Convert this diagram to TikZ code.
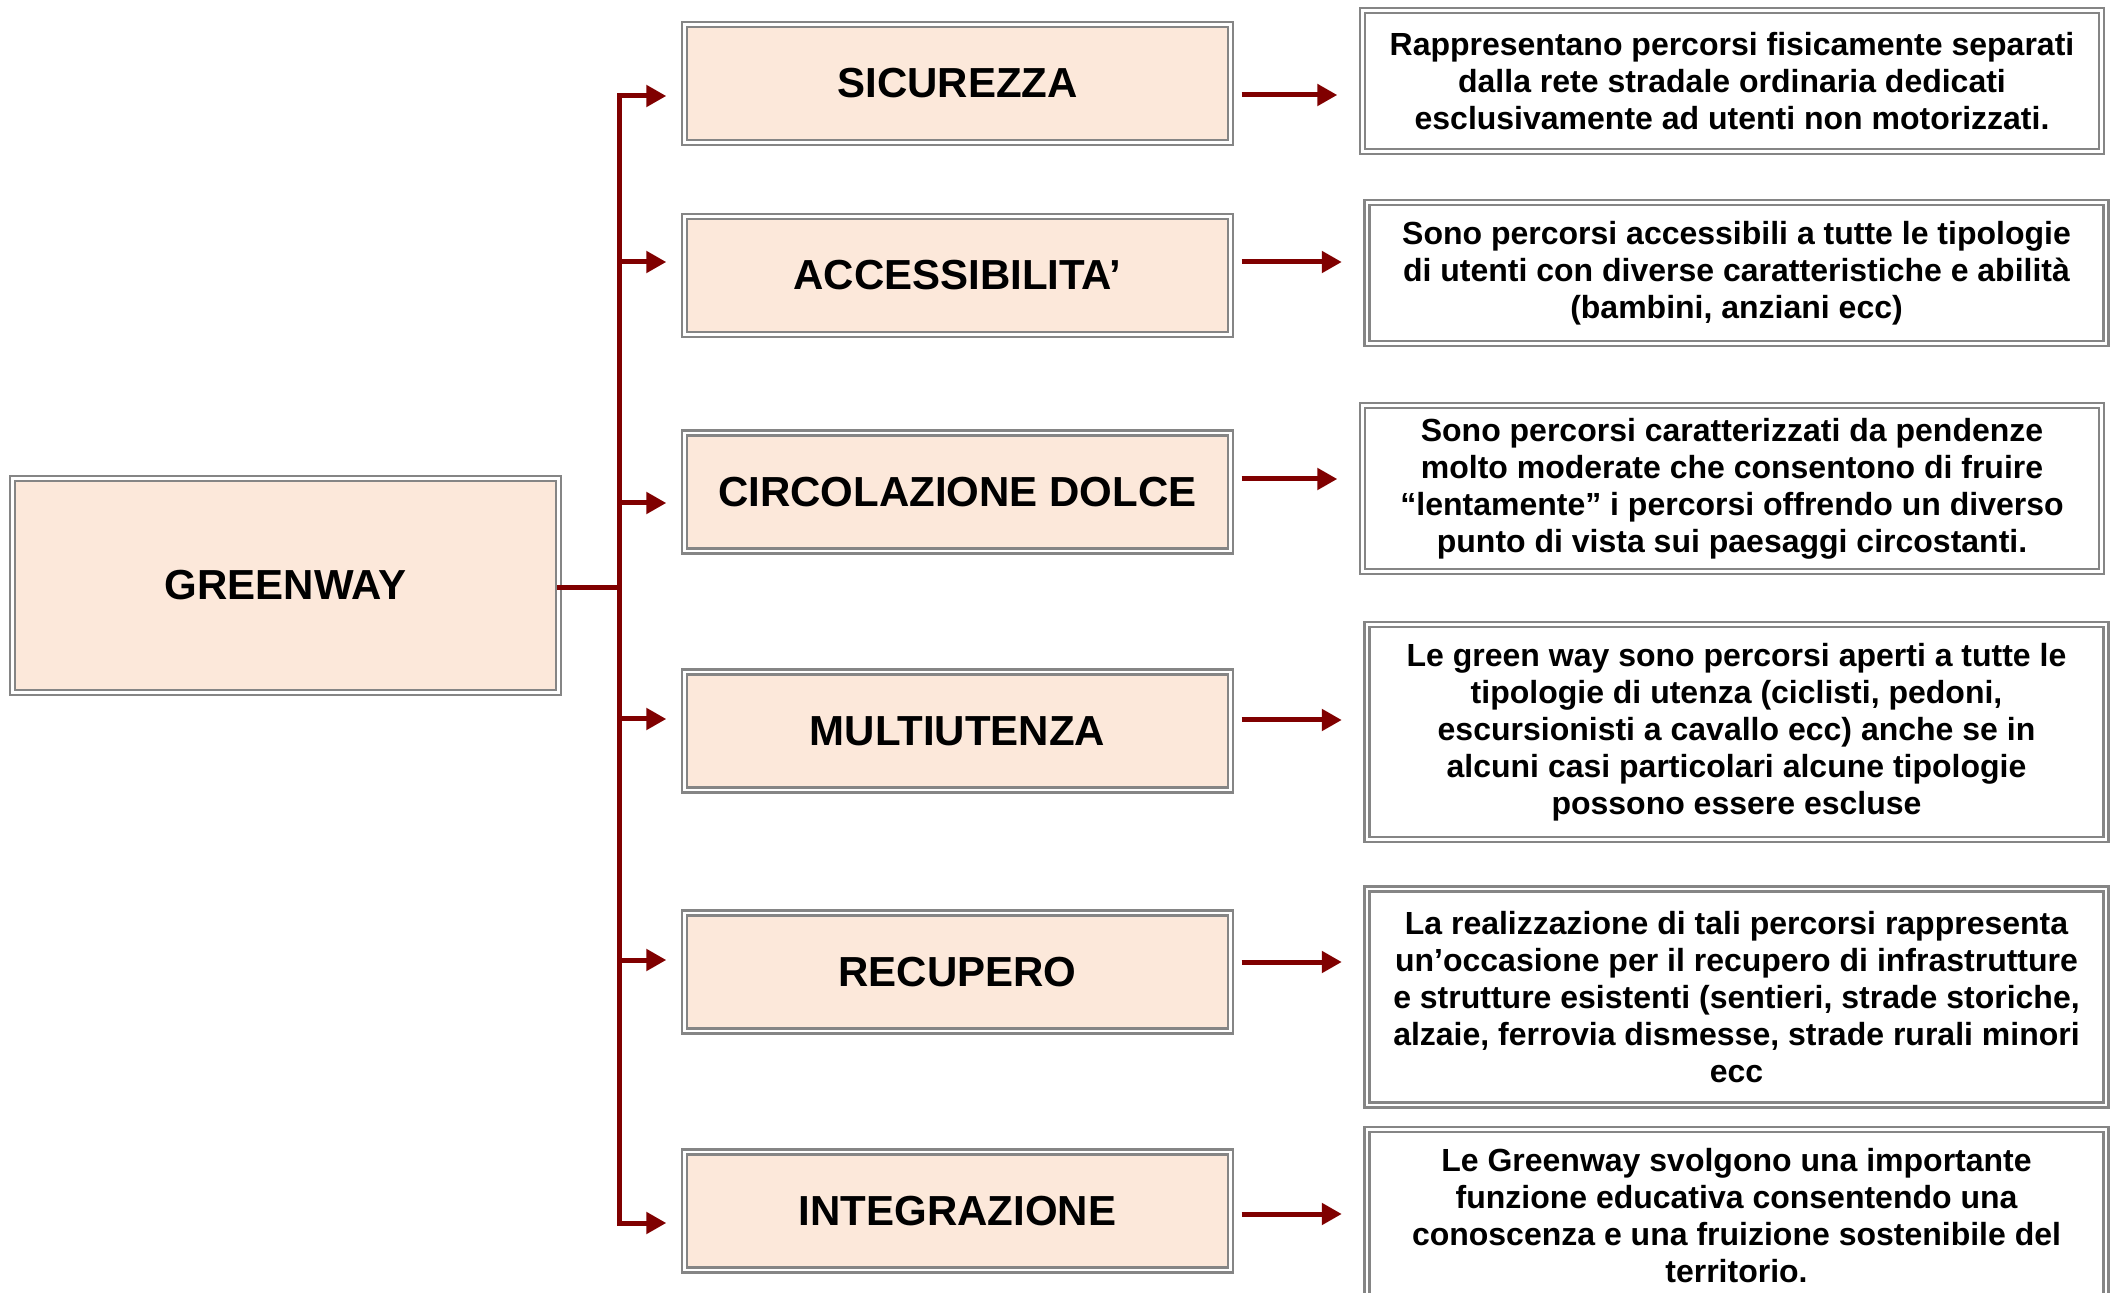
\documentclass[tikz,border=0pt]{standalone}
\usepackage{fontspec}
\setmainfont{Liberation Sans}
\usetikzlibrary{arrows.meta}

\definecolor{peach}{HTML}{FCE8DA}
\definecolor{darkred}{HTML}{800000}
\definecolor{framegray}{HTML}{858585}

\tikzset{
  framed/.style={draw=framegray, line width=1.2pt, double=white, double distance=1.2pt, inner sep=0pt},
  mainbox/.style={framed, fill=peach, minimum width=273pt, font=\fontsize{21}{25}\selectfont\bfseries},
  descbox/.style={framed, fill=white, minimum width=369.5pt, align=center, font=\fontsize{16}{18.5}\selectfont\bfseries},
  flow/.style={darkred, line width=2.5pt, -{Triangle[length=10pt,width=10.5pt]}},
  trunk/.style={darkred, line width=2.5pt, line cap=rect}
}

\begin{document}
\begin{tikzpicture}[x=0.5pt,y=-0.5pt]
            \useasboundingbox (0,0) rectangle (2120,1293);
            \clip (0,0) rectangle (2120,1293);

            \node[mainbox, minimum height=107pt] (GW) at (285.5,585.5) {GREENWAY};

            \node[mainbox, minimum height=59pt] (SIC) at (957.5,83.5) {SICUREZZA};
            \node[mainbox, minimum height=59pt] (ACC) at (957.5,275.5) {ACCESSIBILITA’};
            \node[mainbox, minimum height=59pt] (CIR) at (957.5,492) {CIRCOLAZIONE DOLCE};
            \node[mainbox, minimum height=59pt] (MUL) at (957.5,731) {MULTIUTENZA};
            \node[mainbox, minimum height=59pt] (REC) at (957.5,972) {RECUPERO};
            \node[mainbox, minimum height=59pt] (INT) at (957.5,1211) {INTEGRAZIONE};

            \node[descbox, minimum height=70.4pt] (dSIC) at (1732,81)
                {Rappresentano percorsi fisicamente separati\\dalla rete stradale ordinaria dedicati\\esclusivamente ad utenti non motorizzati.};
            \node[descbox, minimum height=70.4pt] (dACC) at (1736.5,273)
                {Sono percorsi accessibili a tutte le tipologie\\di utenti con diverse caratteristiche e abilità\\(bambini, anziani ecc)};
            \node[descbox, minimum height=83pt] (dCIR) at (1732,488.5)
                {Sono percorsi caratterizzati da pendenze\\molto moderate che consentono di fruire\\“lentamente” i percorsi offrendo un diverso\\punto di vista sui paesaggi circostanti.};
            \node[descbox, minimum height=107.5pt] (dMUL) at (1736.5,732)
                {Le green way sono percorsi aperti a tutte le\\tipologie di utenza (ciclisti, pedoni,\\escursionisti a cavallo ecc) anche se in\\alcuni casi particolari alcune tipologie\\possono essere escluse};
            \node[descbox, minimum height=108pt] (dREC) at (1736.5,997)
                {La realizzazione di tali percorsi rappresenta\\un’occasione per il recupero di infrastrutture\\e strutture esistenti (sentieri, strade storiche,\\alzaie, ferrovia dismesse, strade rurali minori\\ecc};
            \node[descbox, minimum height=86pt] (dINT) at (1736.5,1215.5)
                {Le Greenway svolgono una importante\\funzione educativa consentendo una\\conoscenza e una fruizione sostenibile del\\territorio.};

            % branch points on the trunk
            \coordinate (t1) at (619,96);
            \coordinate (t2) at (619,262);
            \coordinate (t3) at (619,503);
            \coordinate (t4) at (619,719);
            \coordinate (t5) at (619,960);
            \coordinate (t6) at (619,1223);
            % heights of the arrows on the right
            \coordinate (r1) at (0,95);
            \coordinate (r2) at (0,262);
            \coordinate (r3) at (0,479);
            \coordinate (r4) at (0,720);
            \coordinate (r5) at (0,962);
            \coordinate (r6) at (0,1214);

            \draw[trunk] (GW.east |- 0,588) -- (t1 |- 0,588);
            \draw[trunk] (t1) -- (t6);

            \path[flow, shorten >=8.5pt]
                (t1) edge (t1 -| SIC.west)
                (t2) edge (t2 -| ACC.west)
                (t3) edge (t3 -| CIR.west)
                (t4) edge (t4 -| MUL.west)
                (t5) edge (t5 -| REC.west)
                (t6) edge (t6 -| INT.west);

            \path[flow, shorten <=5pt, shorten >=12pt]
                (SIC.east |- r1) edge (r1 -| dSIC.west)
                (ACC.east |- r2) edge (r2 -| dACC.west)
                (CIR.east |- r3) edge (r3 -| dCIR.west)
                (MUL.east |- r4) edge (r4 -| dMUL.west)
                (REC.east |- r5) edge (r5 -| dREC.west)
                (INT.east |- r6) edge (r6 -| dINT.west);
\end{tikzpicture}
\end{document}
